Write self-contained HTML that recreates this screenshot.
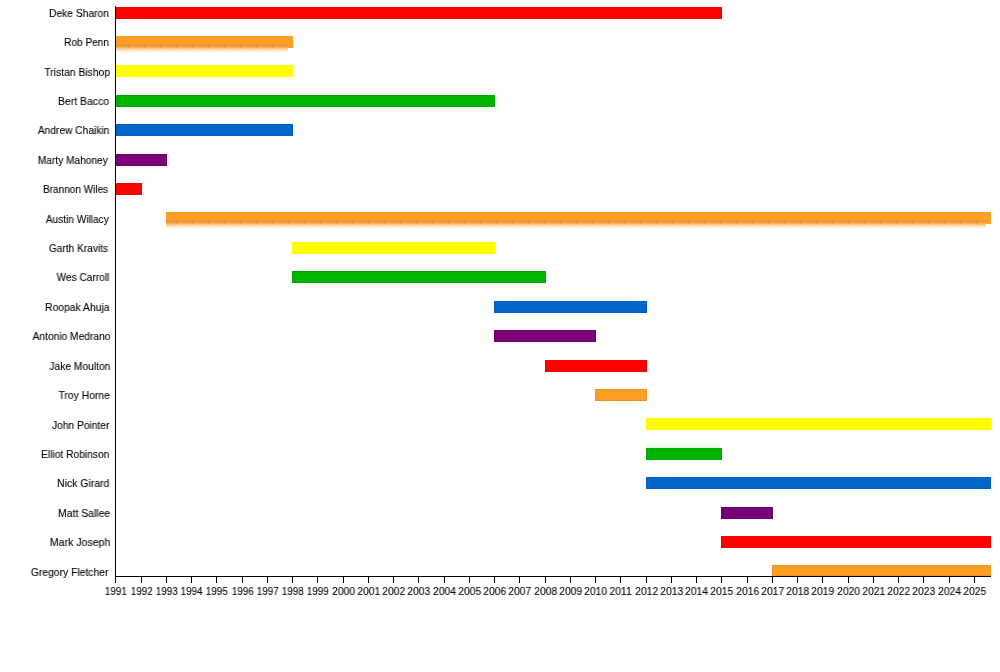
<!DOCTYPE html>
<html><head><meta charset="utf-8"><title>Timeline</title>
<style>
html,body{margin:0;padding:0;background:#fff;}
body{width:1000px;height:672px;position:relative;overflow:hidden;font-family:"Liberation Sans",sans-serif;color:#000;}
.b{position:absolute;height:12px;}
.o{box-shadow:inset 0 0 0 1px rgba(0,0,0,.06);}
.n{position:absolute;left:0;font-size:10.6px;line-height:14px;height:14px;white-space:nowrap;color:#000;transform-origin:0 0;will-change:transform;-webkit-text-stroke:0.1px #000;}
.y{position:absolute;font-size:10.6px;line-height:14px;height:14px;top:584.33px;color:#000;white-space:nowrap;transform-origin:0 0;will-change:transform;-webkit-text-stroke:0.1px #000;}
.t{position:absolute;width:1px;height:7px;top:576px;background:#000;}
.ax{position:absolute;background:#000;}
</style></head><body>

<div class="b o" style="left:115px;top:7px;width:607px;height:12px;background:#ff0000"></div>
<div class="n" style="top:6.33px;transform:translateX(48.99px) scaleX(0.9691)">Deke Sharon</div>
<div class="b" style="left:115px;top:36px;width:173px;height:17px;background:linear-gradient(to bottom,#ff9e24 0,#ff9e24 6.5px,#f59c2a 8px,#e89a36 9.5px,#ee9f40 10.5px,rgba(250,162,52,.8) 11.5px,rgba(255,158,36,.5) 13px,rgba(255,158,36,.24) 14.5px,rgba(255,158,36,0) 16.8px)"></div>
<div class="b" style="left:288px;top:36px;width:5px;height:12px;background:#ff9e24"></div>
<div class="b" style="left:128px;top:44px;width:160px;height:5px;background:repeating-linear-gradient(to right,rgba(235,140,30,.55) 0,rgba(235,140,30,.55) 2px,rgba(0,0,0,0) 2px,rgba(0,0,0,0) 16px);-webkit-mask-image:linear-gradient(to bottom,rgba(0,0,0,0) 0,#000 1.5px,#000 3px,rgba(0,0,0,0) 5px);mask-image:linear-gradient(to bottom,rgba(0,0,0,0) 0,#000 1.5px,#000 3px,rgba(0,0,0,0) 5px)"></div>
<div class="n" style="top:35.33px;transform:translateX(64.15px) scaleX(0.9506)">Rob Penn</div>
<div class="b" style="left:115px;top:65px;width:178px;height:12px;background:#ffff00"></div>
<div class="n" style="top:65.33px;transform:translateX(44.37px) scaleX(0.9754)">Tristan Bishop</div>
<div class="b o" style="left:115px;top:95px;width:380px;height:12px;background:#00b300"></div>
<div class="n" style="top:94.33px;transform:translateX(58.02px) scaleX(0.9844)">Bert Bacco</div>
<div class="b o" style="left:115px;top:124px;width:178px;height:12px;background:#0066cc"></div>
<div class="n" style="top:123.33px;transform:translateX(37.78px) scaleX(0.9642)">Andrew Chaikin</div>
<div class="b o" style="left:115px;top:154px;width:52px;height:12px;background:#780078"></div>
<div class="n" style="top:153.33px;transform:translateX(37.84px) scaleX(0.9576)">Marty Mahoney</div>
<div class="b o" style="left:115px;top:183px;width:27px;height:12px;background:#ff0000"></div>
<div class="n" style="top:182.33px;transform:translateX(43.06px) scaleX(0.9443)">Brannon Wiles</div>
<div class="b" style="left:166px;top:212px;width:820px;height:17px;background:linear-gradient(to bottom,#ff9e24 0,#ff9e24 6.5px,#f59c2a 8px,#e89a36 9.5px,#ee9f40 10.5px,rgba(250,162,52,.8) 11.5px,rgba(255,158,36,.5) 13px,rgba(255,158,36,.24) 14.5px,rgba(255,158,36,0) 16.8px)"></div>
<div class="b" style="left:986px;top:212px;width:5px;height:12px;background:#ff9e24"></div>
<div class="b" style="left:176px;top:220px;width:810px;height:5px;background:repeating-linear-gradient(to right,rgba(235,140,30,.55) 0,rgba(235,140,30,.55) 2px,rgba(0,0,0,0) 2px,rgba(0,0,0,0) 16px);-webkit-mask-image:linear-gradient(to bottom,rgba(0,0,0,0) 0,#000 1.5px,#000 3px,rgba(0,0,0,0) 5px);mask-image:linear-gradient(to bottom,rgba(0,0,0,0) 0,#000 1.5px,#000 3px,rgba(0,0,0,0) 5px)"></div>
<div class="n" style="top:212.33px;transform:translateX(45.79px) scaleX(0.9539)">Austin Willacy</div>
<div class="b" style="left:292px;top:242px;width:203px;height:12px;background:#ffff00"></div>
<div class="n" style="top:241.33px;transform:translateX(48.84px) scaleX(0.9578)">Garth Kravits</div>
<div class="b o" style="left:292px;top:271px;width:254px;height:12px;background:#00b300"></div>
<div class="n" style="top:270.33px;transform:translateX(56.61px) scaleX(0.9561)">Wes Carroll</div>
<div class="b o" style="left:494px;top:301px;width:153px;height:12px;background:#0066cc"></div>
<div class="n" style="top:300.33px;transform:translateX(45.02px) scaleX(0.9779)">Roopak Ahuja</div>
<div class="b o" style="left:494px;top:330px;width:102px;height:12px;background:#780078"></div>
<div class="n" style="top:329.33px;transform:translateX(32.58px) scaleX(0.9643)">Antonio Medrano</div>
<div class="b o" style="left:545px;top:360px;width:102px;height:12px;background:#ff0000"></div>
<div class="n" style="top:359.33px;transform:translateX(49.38px) scaleX(0.9681)">Jake Moulton</div>
<div class="b o" style="left:595px;top:389px;width:52px;height:12px;background:#ff9e24"></div>
<div class="n" style="top:388.33px;transform:translateX(58.57px) scaleX(0.9747)">Troy Horne</div>
<div class="b" style="left:646px;top:418px;width:345px;height:12px;background:#ffff00"></div>
<div class="n" style="top:418.33px;transform:translateX(51.98px) scaleX(0.9654)">John Pointer</div>
<div class="b o" style="left:646px;top:448px;width:76px;height:12px;background:#00b300"></div>
<div class="b" style="left:646px;top:442px;width:74px;height:6px;background:linear-gradient(to bottom,rgba(0,200,0,0) 0,rgba(0,210,0,.13) 100%)"></div>
<div class="n" style="top:447.33px;transform:translateX(41.03px) scaleX(0.9663)">Elliot Robinson</div>
<div class="b o" style="left:646px;top:477px;width:345px;height:12px;background:#0066cc"></div>
<div class="n" style="top:476.33px;transform:translateX(57.01px) scaleX(0.9887)">Nick Girard</div>
<div class="b o" style="left:721px;top:507px;width:52px;height:12px;background:#780078"></div>
<div class="n" style="top:506.33px;transform:translateX(58.02px) scaleX(0.9849)">Matt Sallee</div>
<div class="b o" style="left:721px;top:536px;width:270px;height:12px;background:#ff0000"></div>
<div class="n" style="top:535.33px;transform:translateX(49.80px) scaleX(0.9979)">Mark Joseph</div>
<div class="b o" style="left:772px;top:565px;width:219px;height:11px;background:#ff9e24"></div>
<div class="n" style="top:565.33px;transform:translateX(30.83px) scaleX(0.9761)">Gregory Fletcher</div>
<div class="ax" style="left:115px;top:6px;width:1px;height:571px"></div>
<div class="ax" style="left:115px;top:576px;width:876px;height:1px"></div>
<div class="t" style="left:115px"></div>
<div class="y" style="transform:translateX(104.85px) scaleX(0.9300)">1991</div>
<div class="t" style="left:141px"></div>
<div class="y" style="transform:translateX(130.76px) scaleX(0.9300)">1992</div>
<div class="t" style="left:166px"></div>
<div class="y" style="transform:translateX(155.78px) scaleX(0.9300)">1993</div>
<div class="t" style="left:191px"></div>
<div class="y" style="transform:translateX(180.57px) scaleX(0.9300)">1994</div>
<div class="t" style="left:216px"></div>
<div class="y" style="transform:translateX(205.78px) scaleX(0.9300)">1995</div>
<div class="t" style="left:242px"></div>
<div class="y" style="transform:translateX(231.78px) scaleX(0.9300)">1996</div>
<div class="t" style="left:267px"></div>
<div class="y" style="transform:translateX(256.74px) scaleX(0.9300)">1997</div>
<div class="t" style="left:292px"></div>
<div class="y" style="transform:translateX(281.76px) scaleX(0.9300)">1998</div>
<div class="t" style="left:317px"></div>
<div class="y" style="transform:translateX(306.75px) scaleX(0.9300)">1999</div>
<div class="t" style="left:343px"></div>
<div class="y" style="transform:translateX(332.08px) scaleX(0.9700)">2000</div>
<div class="t" style="left:368px"></div>
<div class="y" style="transform:translateX(357.30px) scaleX(0.9700)">2001</div>
<div class="t" style="left:393px"></div>
<div class="y" style="transform:translateX(382.21px) scaleX(0.9700)">2002</div>
<div class="t" style="left:418px"></div>
<div class="y" style="transform:translateX(407.23px) scaleX(0.9700)">2003</div>
<div class="t" style="left:444px"></div>
<div class="y" style="transform:translateX(433.02px) scaleX(0.9700)">2004</div>
<div class="t" style="left:469px"></div>
<div class="y" style="transform:translateX(458.24px) scaleX(0.9700)">2005</div>
<div class="t" style="left:494px"></div>
<div class="y" style="transform:translateX(483.24px) scaleX(0.9700)">2006</div>
<div class="t" style="left:519px"></div>
<div class="y" style="transform:translateX(508.19px) scaleX(0.9700)">2007</div>
<div class="t" style="left:545px"></div>
<div class="y" style="transform:translateX(534.21px) scaleX(0.9700)">2008</div>
<div class="t" style="left:570px"></div>
<div class="y" style="transform:translateX(559.20px) scaleX(0.9700)">2009</div>
<div class="t" style="left:595px"></div>
<div class="y" style="transform:translateX(584.08px) scaleX(0.9700)">2010</div>
<div class="t" style="left:620px"></div>
<div class="y" style="transform:translateX(609.52px) scaleX(0.9700)">2011</div>
<div class="t" style="left:646px"></div>
<div class="y" style="transform:translateX(635.21px) scaleX(0.9700)">2012</div>
<div class="t" style="left:671px"></div>
<div class="y" style="transform:translateX(660.23px) scaleX(0.9700)">2013</div>
<div class="t" style="left:696px"></div>
<div class="y" style="transform:translateX(685.02px) scaleX(0.9700)">2014</div>
<div class="t" style="left:721px"></div>
<div class="y" style="transform:translateX(710.24px) scaleX(0.9700)">2015</div>
<div class="t" style="left:747px"></div>
<div class="y" style="transform:translateX(736.24px) scaleX(0.9700)">2016</div>
<div class="t" style="left:772px"></div>
<div class="y" style="transform:translateX(761.19px) scaleX(0.9700)">2017</div>
<div class="t" style="left:797px"></div>
<div class="y" style="transform:translateX(786.21px) scaleX(0.9700)">2018</div>
<div class="t" style="left:822px"></div>
<div class="y" style="transform:translateX(811.20px) scaleX(0.9700)">2019</div>
<div class="t" style="left:848px"></div>
<div class="y" style="transform:translateX(837.08px) scaleX(0.9700)">2020</div>
<div class="t" style="left:873px"></div>
<div class="y" style="transform:translateX(862.30px) scaleX(0.9700)">2021</div>
<div class="t" style="left:898px"></div>
<div class="y" style="transform:translateX(887.21px) scaleX(0.9700)">2022</div>
<div class="t" style="left:923px"></div>
<div class="y" style="transform:translateX(912.23px) scaleX(0.9700)">2023</div>
<div class="t" style="left:949px"></div>
<div class="y" style="transform:translateX(938.02px) scaleX(0.9700)">2024</div>
<div class="t" style="left:974px"></div>
<div class="y" style="transform:translateX(963.24px) scaleX(0.9700)">2025</div>
</body></html>
